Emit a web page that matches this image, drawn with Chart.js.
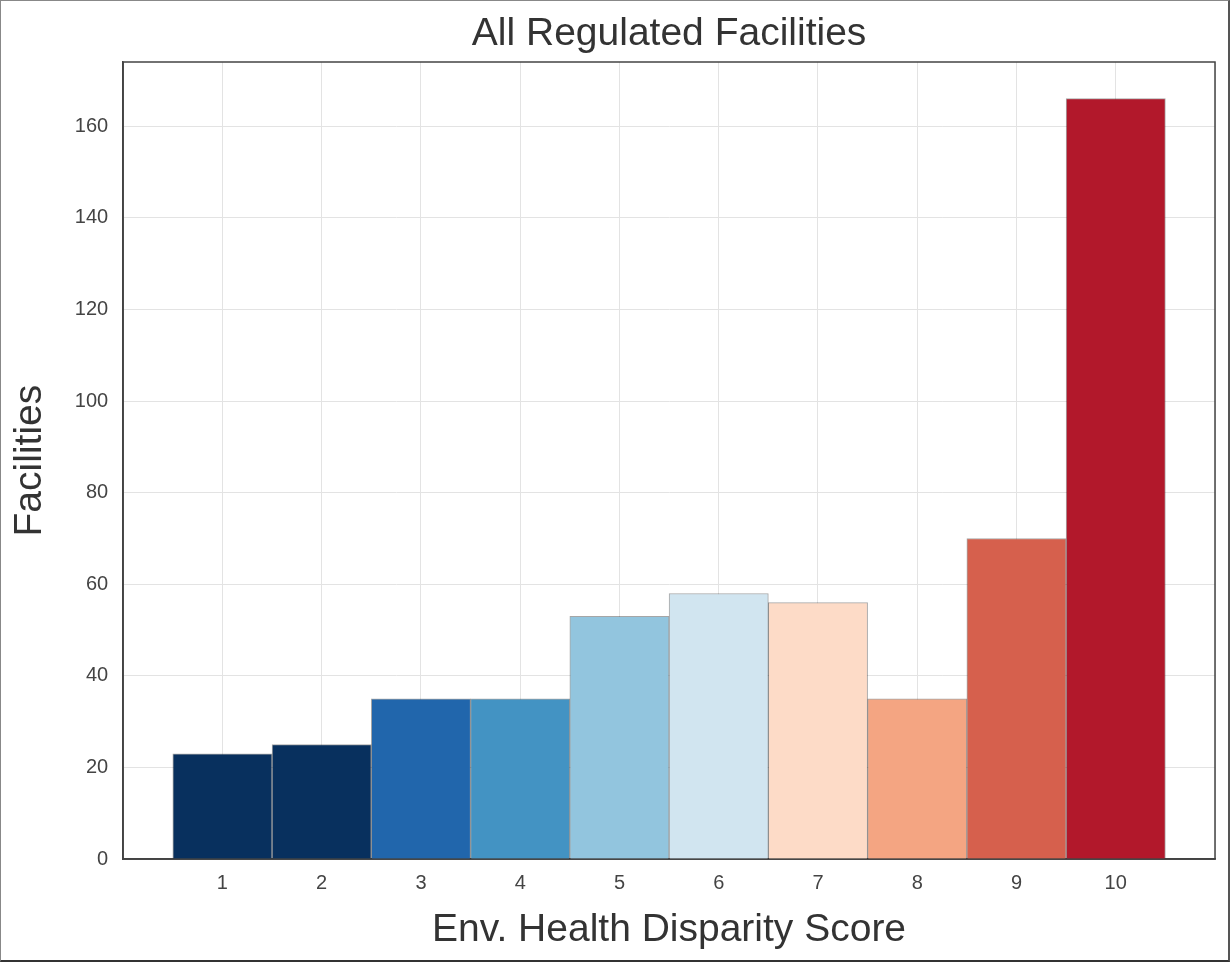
<!DOCTYPE html>
<html>
<head>
<meta charset="utf-8">
<script src="https://cdn.jsdelivr.net/npm/chart.js@4/dist/chart.umd.min.js"></script>
<style>
  html, body { margin: 0; padding: 0; background: #fff; }
  #wrap {
    width: 1230px; height: 962px; box-sizing: border-box;
    border: 1px solid #888; border-bottom: 2px solid #333; border-right: 2px solid #555;
    position: relative;
  }
  #wrap canvas { display: block; }
</style>
</head>
<body>
<div id="wrap"><canvas id="chart"></canvas></div>
<script>
const chartTitle = "All Regulated Facilities"
const scores = [1, 2, 3, 4, 5, 6, 7, 8, 9, 10]
const facilities = [23, 25, 35, 35, 53, 58, 56, 35, 70, 166]
const barColors = [
  "#08305e", "#08305e", "#2166ac", "#4393c3", "#92c5de",
  "#d1e5f0", "#fddbc7", "#f4a582", "#d6604d", "#b2182b"
]
const yTicks = [0, 20, 40, 60, 80, 100, 120, 140, 160]

const family = "Liberation Sans, Arial, sans-serif"
const tickFont = { family, size: 20 }
const labelFont = { family, size: 39 }

// Frame around the plot area, and the title centred over the plot (like matplotlib)
const frame = {
  id: "frame",
  afterDraw(chart) {
    const { ctx, chartArea: a } = chart
    ctx.save()
    ctx.strokeStyle = "#444"
    ctx.lineWidth = 1.5
    ctx.strokeRect(a.left, a.top, a.right - a.left, a.bottom - a.top)
    ctx.fillStyle = "#333"
    ctx.font = `${labelFont.size}px ${family}`
    ctx.textAlign = "center"
    ctx.textBaseline = "middle"
    ctx.fillText(chartTitle, (a.left + a.right) / 2, 33)
    ctx.restore()
  }
}

new Chart(document.getElementById("chart"), {
  type: "bar",
  data: {
    datasets: [{
      data: scores.map((s, i) => ({ x: s, y: facilities[i] })),
      backgroundColor: barColors,
      borderColor: "rgba(0, 0, 0, 0.35)",
      borderWidth: 1,
      barPercentage: 1,
      categoryPercentage: 1,
    }]
  },
  options: {
    responsive: true,
    maintainAspectRatio: false,
    animation: false,
    layout: { padding: { top: 61, right: 13, bottom: 0, left: 1 } },
    plugins: {
      legend: { display: false },
      tooltip: { enabled: false },
      title: { display: false }
    },
    scales: {
      x: {
        type: "linear",
        offset: false,
        min: 0,
        max: 11,
        grid: { color: "#e3e3e3", drawTicks: false, offset: false },
        border: { color: "#444", width: 1.5 },
        ticks: {
          stepSize: 1,
          color: "#444",
          font: tickFont,
          padding: 12,
          callback: v => (v >= 1 && v <= 10 ? String(v) : "")
        },
        title: {
          display: true,
          text: "Env. Health Disparity Score",
          color: "#333",
          font: labelFont,
          padding: { top: 0, bottom: 6 }
        }
      },
      y: {
        min: 0,
        max: 174,
        grid: { color: "#e3e3e3", drawTicks: false },
        border: { color: "#444", width: 1.5 },
        afterBuildTicks: axis => { axis.ticks = yTicks.map(v => ({ value: v })) },
        ticks: {
          color: "#444",
          font: tickFont,
          padding: 15
        },
        title: {
          display: true,
          text: "Facilities",
          color: "#333",
          font: labelFont,
          padding: { top: 5, bottom: 6 }
        }
      }
    }
  },
  plugins: [frame]
})
</script>
</body>
</html>
